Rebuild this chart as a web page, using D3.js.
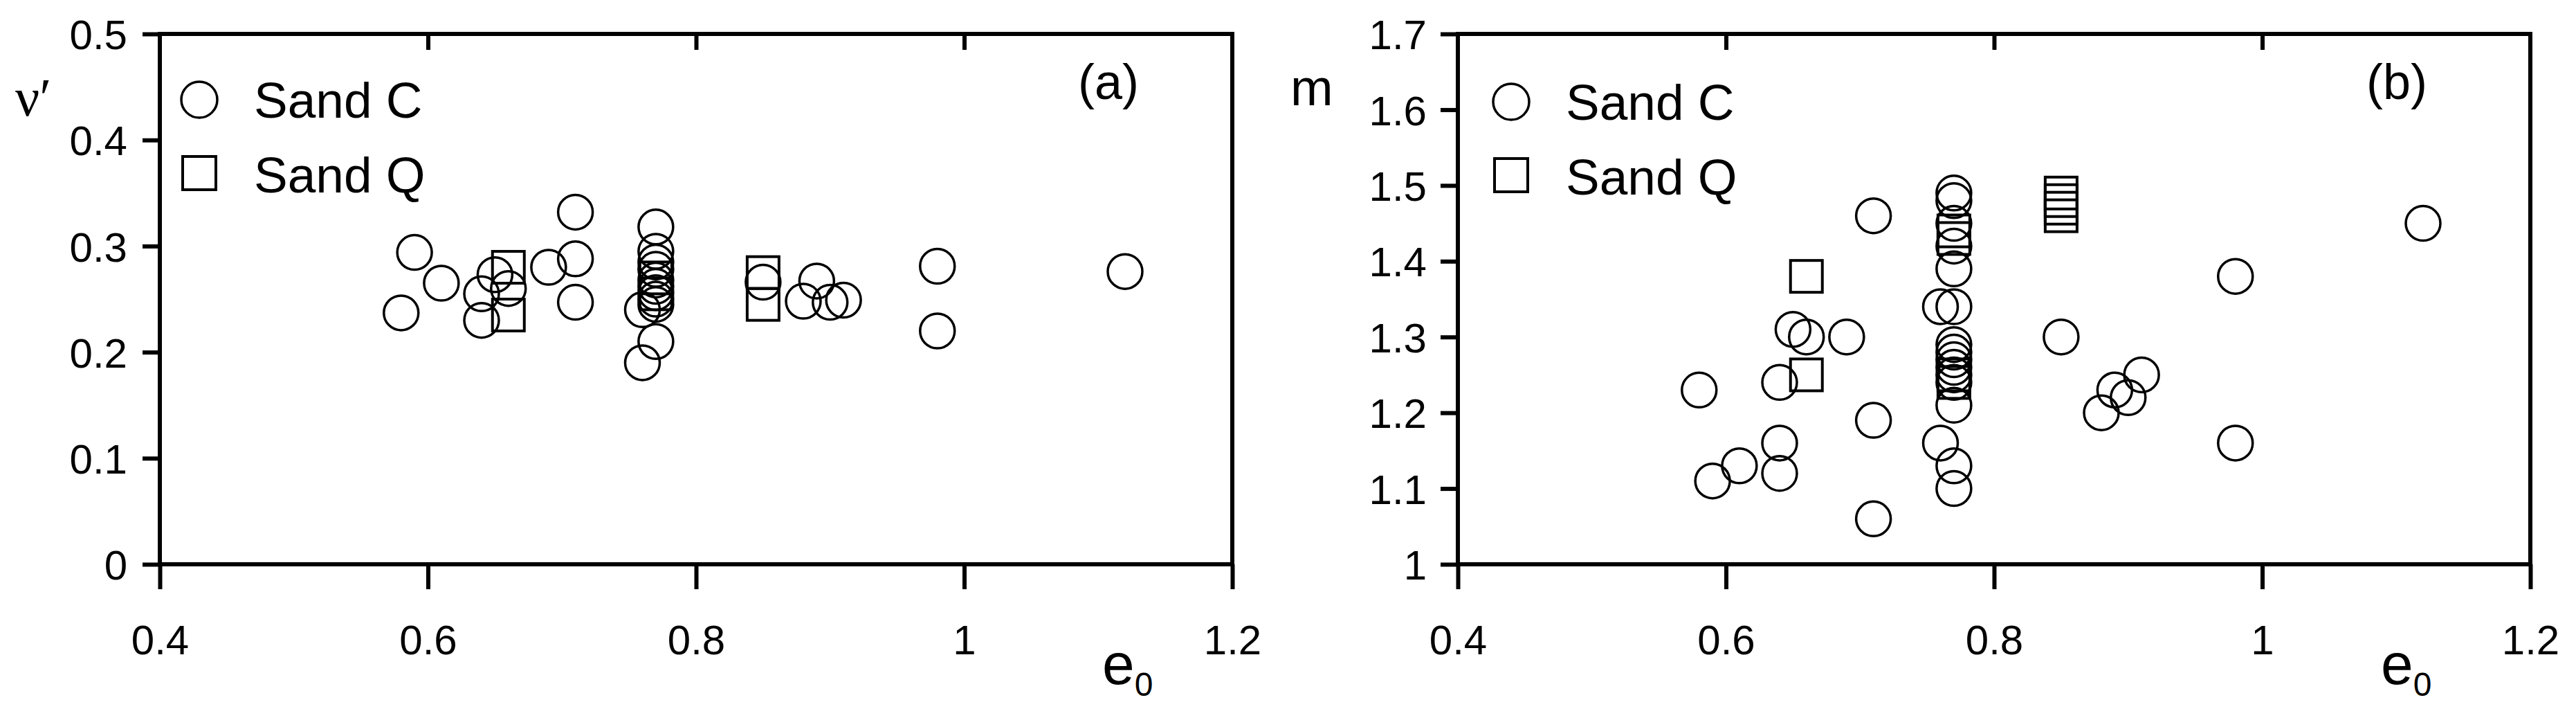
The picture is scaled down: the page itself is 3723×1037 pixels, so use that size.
<!DOCTYPE html>
<html>
<head>
<meta charset="utf-8">
<script src="https://cdn.jsdelivr.net/npm/d3@7"></script>
<style>
  body { margin: 0; background: #fff; }
  svg text { font-family: "Liberation Sans", Arial, sans-serif; fill: #000; }
</style>
</head>
<body>
<div id="chart"></div>
<script>
"use strict";

// ---- data ----
var eTicks = [0.4, 0.6, 0.8, 1.0, 1.2];
var nuTicks = [0, 0.1, 0.2, 0.3, 0.4, 0.5];
var mTicks = [1, 1.1, 1.2, 1.3, 1.4, 1.5, 1.6, 1.7];

// panel (a): [e0, nu']
var sandCNu = [
  [0.58, 0.237], [0.59, 0.294], [0.61, 0.265], [0.64, 0.255], [0.64, 0.23],
  [0.65, 0.273], [0.66, 0.26], [0.69, 0.28], [0.71, 0.332], [0.71, 0.288],
  [0.71, 0.247], [0.77, 0.318], [0.77, 0.295], [0.77, 0.285], [0.77, 0.278],
  [0.77, 0.268], [0.77, 0.262], [0.77, 0.256], [0.77, 0.25], [0.77, 0.245],
  [0.77, 0.21], [0.76, 0.24], [0.76, 0.19], [0.85, 0.266], [0.88, 0.248],
  [0.89, 0.267], [0.90, 0.247], [0.91, 0.249], [0.98, 0.281], [0.98, 0.22],
  [1.12, 0.276]
];
var sandQNu = [
  [0.66, 0.28], [0.66, 0.235], [0.77, 0.27], [0.77, 0.255], [0.85, 0.275], [0.85, 0.245]
];

// panel (b): [e0, m]
var sandCM = [
  [0.58, 1.23], [0.59, 1.11], [0.61, 1.13], [0.64, 1.24], [0.64, 1.16], [0.64, 1.12],
  [0.65, 1.31], [0.66, 1.30], [0.69, 1.30], [0.71, 1.46], [0.71, 1.19], [0.71, 1.06],
  [0.77, 1.49], [0.77, 1.48], [0.77, 1.45], [0.77, 1.42], [0.77, 1.39], [0.76, 1.34],
  [0.77, 1.34], [0.77, 1.29], [0.77, 1.28], [0.77, 1.27], [0.77, 1.26], [0.77, 1.25],
  [0.77, 1.24], [0.77, 1.21], [0.76, 1.16], [0.77, 1.13], [0.77, 1.10], [0.85, 1.30],
  [0.88, 1.20], [0.89, 1.23], [0.90, 1.22], [0.91, 1.25], [0.98, 1.38], [0.98, 1.16],
  [1.12, 1.45]
];
var sandQM = [
  [0.66, 1.38], [0.66, 1.25], [0.77, 1.44], [0.77, 1.43], [0.77, 1.25], [0.77, 1.24],
  [0.85, 1.49], [0.85, 1.48], [0.85, 1.47], [0.85, 1.46]
];

var W = 3723, H = 1037;
var plotTop = 49, plotBottom = 815;
var fmt = d3.format("~g");

var svg = d3.select("#chart").append("svg")
  .attr("width", W).attr("height", H);

function panel(opts) {
  var x = d3.scaleLinear().domain([0.4, 1.2]).range([opts.left, opts.right]);
  var y = d3.scaleLinear().domain(opts.yDomain).range([plotBottom, plotTop]);
  var g = svg.append("g");

  // bottom axis, ticks outside
  var xb = g.append("g").attr("transform", "translate(0," + plotBottom + ")")
    .call(d3.axisBottom(x).tickValues(eTicks).tickFormat(fmt).tickSize(36).tickPadding(51));
  // top axis, small inward ticks, no labels
  var xt = g.append("g").attr("transform", "translate(0," + plotTop + ")")
    .call(d3.axisTop(x).tickValues(eTicks.slice(1, -1)).tickFormat("").tickSize(-23));
  // left axis
  var yl = g.append("g").attr("transform", "translate(" + opts.left + ",0)")
    .call(d3.axisLeft(y).tickValues(opts.yTicks).tickFormat(fmt).tickSize(25).tickPadding(opts.pad));

  [xb, xt, yl].forEach(function (a) {
    a.select(".domain").remove();
    a.selectAll("line").attr("stroke", "#000").attr("stroke-width", 6);
    a.selectAll("text").style("font-size", "60px").attr("fill", "#000");
  });
  yl.selectAll("text").attr("dy", "0.36em");

  // frame
  g.append("rect")
    .attr("x", opts.left).attr("y", plotTop)
    .attr("width", opts.right - opts.left).attr("height", plotBottom - plotTop)
    .attr("fill", "none").attr("stroke", "#000").attr("stroke-width", 6);

  // markers
  g.append("g").selectAll("rect").data(opts.squares).enter().append("rect")
    .attr("x", function (d) { return x(d[0]) - 23; })
    .attr("y", function (d) { return y(d[1]) - 23; })
    .attr("width", 46).attr("height", 46)
    .attr("fill", "none").attr("stroke", "#000").attr("stroke-width", 4);
  g.append("g").selectAll("circle").data(opts.circles).enter().append("circle")
    .attr("cx", function (d) { return x(d[0]); })
    .attr("cy", function (d) { return y(d[1]); })
    .attr("r", 25)
    .attr("fill", "none").attr("stroke", "#000").attr("stroke-width", 3.5);

  // legend
  var lg = g.append("g");
  lg.append("circle").attr("cx", opts.legX).attr("cy", opts.legY)
    .attr("r", 26).attr("fill", "none").attr("stroke", "#000").attr("stroke-width", 3.5);
  lg.append("rect").attr("x", opts.legX - 24).attr("y", opts.legY + 106 - 24)
    .attr("width", 48).attr("height", 48)
    .attr("fill", "none").attr("stroke", "#000").attr("stroke-width", 4);
  lg.append("text").attr("x", opts.legTextX).attr("y", opts.legY + 26)
    .style("font-size", "73px").text("Sand C");
  lg.append("text").attr("x", opts.legTextX).attr("y", opts.legY + 134)
    .style("font-size", "73px").text("Sand Q");

  // panel tag
  g.append("text").attr("x", opts.tagX).attr("y", 143)
    .style("font-size", "72px").text(opts.tag);

  // x label e0
  var xl = g.append("text").attr("x", opts.eX).attr("y", 988).style("font-size", "84px");
  xl.append("tspan").text("e");
  xl.append("tspan").attr("dy", 17).style("font-size", "48px").text("0");

  // y label
  g.append("text").attr("x", opts.yLabX).attr("y", opts.yLabY)
    .style("font-family", opts.yLabFont)
    .style("font-size", opts.yLabSize + "px").text(opts.yLab);
}

panel({
  left: 231, right: 1781, yDomain: [0, 0.5], yTicks: nuTicks, pad: 22,
  circles: sandCNu, squares: sandQNu,
  legX: 288, legY: 144, legTextX: 367,
  tag: "(a)", tagX: 1558, eX: 1593,
  yLab: "\u03bd\u2032", yLabX: 22, yLabY: 167, yLabSize: 78,
  yLabFont: "'Liberation Serif', 'Times New Roman', serif"
});

panel({
  left: 2107, right: 3657, yDomain: [1, 1.7], yTicks: mTicks, pad: 20,
  circles: sandCM, squares: sandQM,
  legX: 2184, legY: 147, legTextX: 2263,
  tag: "(b)", tagX: 3420, eX: 3441,
  yLab: "m", yLabX: 1865, yLabY: 152, yLabSize: 74,
  yLabFont: "'Liberation Sans', Arial, sans-serif"
});
</script>
</body>
</html>
